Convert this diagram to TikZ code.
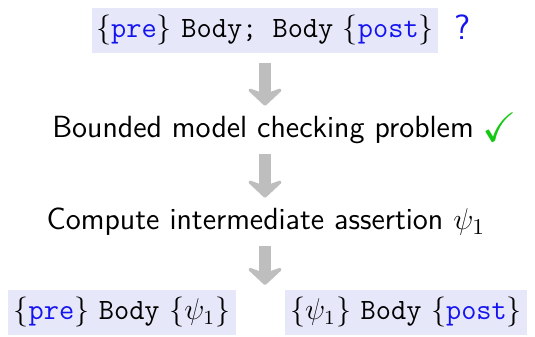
\documentclass[tikz,border=0pt]{standalone}
\usepackage{amssymb}
\usetikzlibrary{arrows.meta}
\definecolor{boxbg}{RGB}{231,231,250}
\definecolor{kwblue}{RGB}{20,20,240}
\definecolor{okgreen}{RGB}{20,200,20}
\definecolor{arrgray}{RGB}{190,190,190}
\tikzset{
  spec/.style={fill=boxbg, inner sep=0pt, minimum height=18pt, font=\fontsize{11.8}{14}\selectfont},
  stepline/.style={font=\sffamily\fontsize{12.25}{14}\selectfont, inner sep=0pt},
  bigarrow/.style={draw=arrgray, line width=5pt, -{Stealth[round,length=8pt,width=17pt,inset=3pt]}},
}
\newcommand{\kw}[1]{\textcolor{kwblue}{\texttt{#1}}}
\begin{document}
\begin{tikzpicture}[x=0.4pt,y=-0.4pt]
\useasboundingbox (0,0) rectangle (535,336);
\node[spec, minimum width=138pt] (top) at (265,30) {$\{$\kw{pre}$\}$ \texttt{Body; Body} $\{$\kw{post}$\}$};
\node[font=\sffamily\fontsize{14}{16}\selectfont, text=kwblue, inner sep=0pt] (q) at (463,27) {?};
\node[stepline] (t1) at (263,130) {Bounded model checking problem};
\node[text=okgreen, inner sep=0pt, font=\fontsize{16.5}{18}\selectfont] (ok) at (500,127) {$\checkmark$};
\node[stepline] (t2) at (266,222) {Compute intermediate assertion $\psi_1$};
\node[spec, minimum width=91pt] (bl) at (122,312) {$\{$\kw{pre}$\}$ \texttt{Body} $\{\psi_1\}$};
\node[spec, minimum width=97pt] (br) at (406,312) {$\{\psi_1\}$ \texttt{Body} $\{$\kw{post}$\}$};
\coordinate (gap) at (265,290);
\draw[bigarrow, shorten <=4pt, shorten >=4pt] (top.south -| 265,0) -- (t1.north -| 265,0);
\draw[bigarrow, shorten <=4pt, shorten >=4pt] (t1.south -| 265,0) -- (t2.north -| 265,0);
\draw[bigarrow, shorten <=4pt, shorten >=2pt] (t2.south -| 265,0) -- (gap);
\end{tikzpicture}
\end{document}
